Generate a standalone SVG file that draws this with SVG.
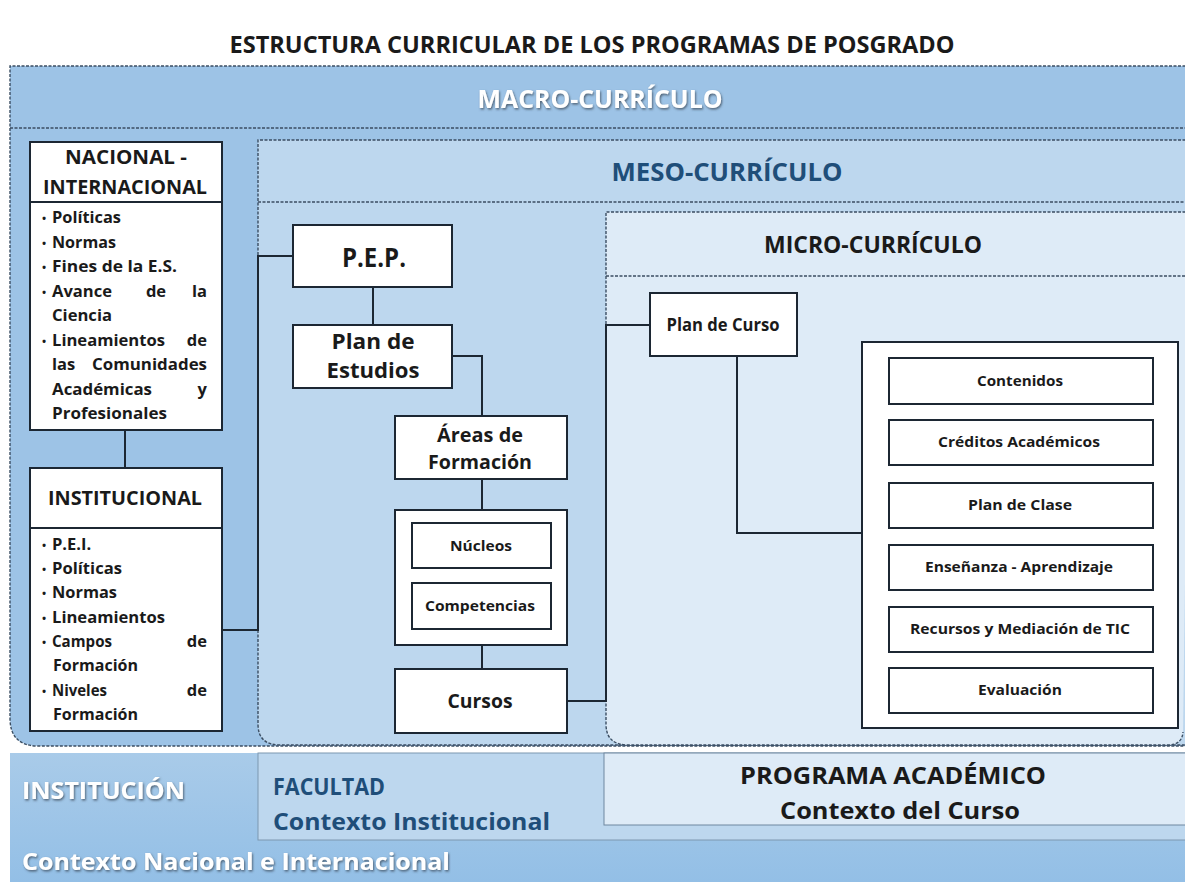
<svg xmlns="http://www.w3.org/2000/svg" width="1185" height="882" viewBox="0 0 1185 882">
<defs>
<filter id="sh" x="-10%" y="-30%" width="120%" height="160%"><feDropShadow dx="1" dy="1.5" stdDeviation="0.8" flood-color="#3a4a5a" flood-opacity="0.8"/></filter>
<linearGradient id="gBand" x1="0" y1="0" x2="0" y2="1"><stop offset="0" stop-color="#a9cbe9"/><stop offset="1" stop-color="#93bfe6"/></linearGradient>
</defs>
<style>
text{font-family:"Open Sans",Lato,"Liberation Sans",sans-serif;font-weight:bold;fill:#1a1a1a}
.zone{stroke:#3b4e63;stroke-width:1.4;stroke-dasharray:3 1.5}
.sep{stroke:#3b4e63;stroke-width:1.4;stroke-dasharray:3 1.5;fill:none}
.box{fill:#fff;stroke:#1c2733;stroke-width:2}
.conn{fill:none;stroke:#1c2733;stroke-width:2}
.c{text-anchor:middle}
.e{text-anchor:end}
.li text{font-size:16.5px}
.li .b{font-size:11px}
.it{font-size:14.5px}
</style>
<rect width="1185" height="882" fill="#fff"/>
<text x="592" y="53" class="c" font-size="24" textLength="725" lengthAdjust="spacingAndGlyphs">ESTRUCTURA CURRICULAR DE LOS PROGRAMAS DE POSGRADO</text>

<g id="macro">
<path class="zone" d="M1190 66 H10 V718 Q10 746 38 746 H1190" fill="#9dc3e6"/>
<path class="sep" d="M10 128 H1190"/>
<text x="600" y="108" class="c" font-size="25" textLength="245" lengthAdjust="spacingAndGlyphs" style="fill:#fff" filter="url(#sh)">MACRO-CURRÍCULO</text>
</g>

<g id="meso">
<path class="zone" d="M1190 140 H258 V724 Q258 745 280 745 H1190" fill="#bdd7ee"/>
<path class="sep" d="M258 202 H1190"/>
<text x="727" y="181" class="c" font-size="25" textLength="231" lengthAdjust="spacingAndGlyphs" style="fill:#1f4e79">MESO-CURRÍCULO</text>
</g>

<g id="micro">
<path class="zone" d="M1190 212 H606 V724 Q606 745 628 745 H1168 Q1182 745 1183 732" fill="#deebf7"/>
<path class="sep" d="M606 276 H1190"/>
<text x="873" y="253" class="c" font-size="24" textLength="218" lengthAdjust="spacingAndGlyphs">MICRO-CURRÍCULO</text>
</g>

<g id="band">
<rect x="10" y="753" width="1180" height="129" fill="url(#gBand)"/>
<rect x="258" y="753" width="932" height="87" fill="#bdd7ee" stroke="#7d97b0" stroke-width="1"/>
<rect x="604" y="753" width="586" height="72" fill="#deebf7" stroke="#6f879f" stroke-width="1"/>
<text x="22" y="799" font-size="24" textLength="163" lengthAdjust="spacingAndGlyphs" style="fill:#fff" filter="url(#sh)">INSTITUCIÓN</text>
<text x="273" y="795" font-size="24" textLength="112" lengthAdjust="spacingAndGlyphs" style="fill:#1f4e79">FACULTAD</text>
<text x="273" y="830" font-size="24" textLength="277" lengthAdjust="spacingAndGlyphs" style="fill:#1f4e79">Contexto Institucional</text>
<text x="893" y="784" class="c" font-size="24" textLength="306" lengthAdjust="spacingAndGlyphs">PROGRAMA ACADÉMICO</text>
<text x="900" y="819" class="c" font-size="24" textLength="240" lengthAdjust="spacingAndGlyphs">Contexto del Curso</text>
<text x="22" y="870" font-size="24" textLength="428" lengthAdjust="spacingAndGlyphs" style="fill:#fff" filter="url(#sh)">Contexto Nacional e Internacional</text>
</g>

<g id="connectors">
<path class="conn" d="M125 430 V468"/>
<path class="conn" d="M222 630 H258 V256 H293"/>
<path class="conn" d="M373 287 V325"/>
<path class="conn" d="M452 356 H482 V416"/>
<path class="conn" d="M482 479 V510"/>
<path class="conn" d="M482 568 V583"/>
<path class="conn" d="M482 645 V669"/>
<path class="conn" d="M567 701 H606 V325 H650"/>
<path class="conn" d="M737 356 V533 H862"/>
</g>

<g id="nacional">
<rect class="box" x="30" y="142" width="192" height="288"/>
<line x1="30" y1="202" x2="222" y2="202" stroke="#1c2733" stroke-width="2"/>
<text x="126" y="164" class="c" font-size="19" textLength="122" lengthAdjust="spacingAndGlyphs">NACIONAL -</text>
<text x="125" y="194" class="c" font-size="19" textLength="164" lengthAdjust="spacingAndGlyphs">INTERNACIONAL</text>
<g class="li">
<text class="b" x="42" y="222">•</text><text x="52" y="223" textLength="69" lengthAdjust="spacingAndGlyphs">Políticas</text>
<text class="b" x="42" y="247">•</text><text x="52" y="248" textLength="64" lengthAdjust="spacingAndGlyphs">Normas</text>
<text class="b" x="42" y="271">•</text><text x="52" y="272" textLength="125" lengthAdjust="spacingAndGlyphs">Fines de la E.S.</text>
<text class="b" x="42" y="296">•</text><text x="52" y="297" textLength="60" lengthAdjust="spacingAndGlyphs">Avance</text><text x="156" y="297" class="c">de</text><text x="207" y="297" class="e">la</text>
<text x="52" y="321" textLength="60" lengthAdjust="spacingAndGlyphs">Ciencia</text>
<text class="b" x="42" y="345">•</text><text x="52" y="346" textLength="113" lengthAdjust="spacingAndGlyphs">Lineamientos</text><text x="207" y="346" class="e">de</text>
<text x="52" y="370">las</text><text x="207" y="370" class="e" textLength="115" lengthAdjust="spacingAndGlyphs">Comunidades</text>
<text x="52" y="395" textLength="100" lengthAdjust="spacingAndGlyphs">Académicas</text><text x="207" y="395" class="e">y</text>
<text x="52" y="419" textLength="115" lengthAdjust="spacingAndGlyphs">Profesionales</text>
</g>
</g>

<g id="institucional">
<rect class="box" x="30" y="468" width="192" height="263"/>
<line x1="30" y1="528" x2="222" y2="528" stroke="#1c2733" stroke-width="2"/>
<text x="125" y="505" class="c" font-size="19" textLength="154" lengthAdjust="spacingAndGlyphs">INSTITUCIONAL</text>
<g class="li">
<text class="b" x="42" y="549">•</text><text x="52" y="550">P.E.I.</text>
<text class="b" x="42" y="573">•</text><text x="52" y="574" textLength="70" lengthAdjust="spacingAndGlyphs">Políticas</text>
<text class="b" x="42" y="597">•</text><text x="52" y="598" textLength="65" lengthAdjust="spacingAndGlyphs">Normas</text>
<text class="b" x="42" y="622">•</text><text x="52" y="623" textLength="113" lengthAdjust="spacingAndGlyphs">Lineamientos</text>
<text class="b" x="42" y="646">•</text><text x="52" y="647" textLength="60" lengthAdjust="spacingAndGlyphs">Campos</text><text x="207" y="647" class="e">de</text>
<text x="53" y="671" textLength="85" lengthAdjust="spacingAndGlyphs">Formación</text>
<text class="b" x="42" y="695">•</text><text x="52" y="696" textLength="55" lengthAdjust="spacingAndGlyphs">Niveles</text><text x="207" y="696" class="e">de</text>
<text x="53" y="720" textLength="85" lengthAdjust="spacingAndGlyphs">Formación</text>
</g>
</g>

<g id="pep">
<rect class="box" x="293" y="225" width="159" height="62"/>
<text x="374" y="267" class="c" font-size="27" textLength="64" lengthAdjust="spacingAndGlyphs">P.E.P.</text>
</g>
<g id="plan-estudios">
<rect class="box" x="293" y="325" width="159" height="63"/>
<text x="373" y="349" class="c" font-size="22" textLength="83" lengthAdjust="spacingAndGlyphs">Plan de</text>
<text x="373" y="378" class="c" font-size="22" textLength="93" lengthAdjust="spacingAndGlyphs">Estudios</text>
</g>
<g id="areas">
<rect class="box" x="395" y="416" width="172" height="63"/>
<text x="480" y="442" class="c" font-size="20" textLength="86" lengthAdjust="spacingAndGlyphs">Áreas de</text>
<text x="480" y="469" class="c" font-size="20" textLength="104" lengthAdjust="spacingAndGlyphs">Formación</text>
</g>
<g id="nucleos-grupo">
<rect class="box" x="395" y="510" width="172" height="135"/>
</g>
<g id="nucleos">
<rect class="box" x="412" y="523" width="139" height="45"/>
<text x="481" y="551" class="c it" textLength="62" lengthAdjust="spacingAndGlyphs">Núcleos</text>
</g>
<g id="competencias">
<rect class="box" x="412" y="583" width="139" height="46"/>
<text x="480" y="611" class="c it" textLength="110" lengthAdjust="spacingAndGlyphs">Competencias</text>
</g>
<g id="cursos">
<rect class="box" x="395" y="669" width="172" height="64"/>
<text x="480" y="708" class="c" font-size="20" textLength="65" lengthAdjust="spacingAndGlyphs">Cursos</text>
</g>
<g id="plan-curso">
<rect class="box" x="650" y="293" width="147" height="63"/>
<text x="723" y="331" class="c" font-size="18" textLength="113" lengthAdjust="spacingAndGlyphs">Plan de Curso</text>
</g>
<g id="componentes">
<rect class="box" x="862" y="342" width="316" height="386"/>
</g>
<g id="contenidos"><rect class="box" x="889" y="358" width="264" height="46"/><text x="1020" y="386" class="c it" textLength="86" lengthAdjust="spacingAndGlyphs">Contenidos</text></g>
<g id="creditos"><rect class="box" x="889" y="420" width="264" height="45"/><text x="1019" y="447" class="c it" textLength="162" lengthAdjust="spacingAndGlyphs">Créditos Académicos</text></g>
<g id="plan-clase"><rect class="box" x="889" y="483" width="264" height="45"/><text x="1020" y="510" class="c it" textLength="104" lengthAdjust="spacingAndGlyphs">Plan de Clase</text></g>
<g id="ensenanza"><rect class="box" x="889" y="545" width="264" height="45"/><text x="1019" y="572" class="c it" textLength="188" lengthAdjust="spacingAndGlyphs">Enseñanza - Aprendizaje</text></g>
<g id="recursos"><rect class="box" x="889" y="607" width="264" height="45"/><text x="1020" y="634" class="c it" textLength="220" lengthAdjust="spacingAndGlyphs">Recursos y Mediación de TIC</text></g>
<g id="evaluacion"><rect class="box" x="889" y="668" width="264" height="45"/><text x="1020" y="695" class="c it" textLength="84" lengthAdjust="spacingAndGlyphs">Evaluación</text></g>
</svg>
